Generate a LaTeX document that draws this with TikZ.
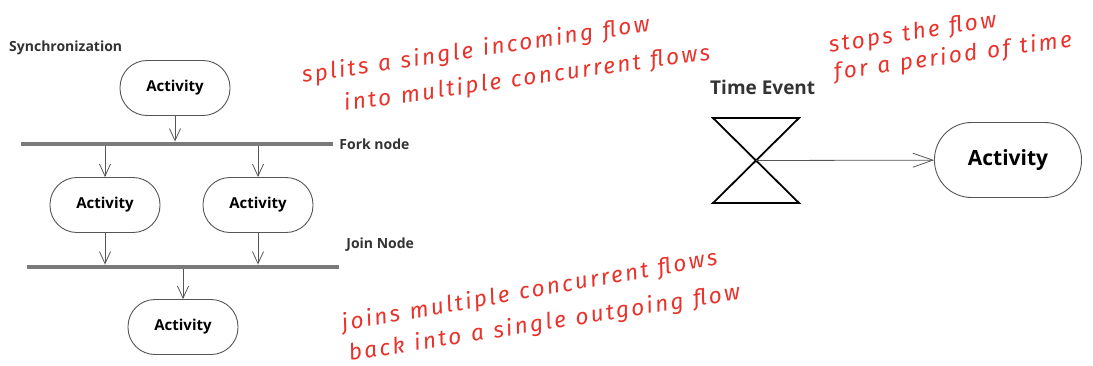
\documentclass[tikz,border=0pt]{standalone}
\usepackage{fontspec}
\setsansfont{Open Sans}
\newfontfamily\handfont{Fira Sans}[LetterSpace=11, WordSpace=1.2]
\usetikzlibrary{arrows.meta,positioning}
\definecolor{umlLine}{HTML}{555555}
\definecolor{umlBar}{HTML}{7A7A7A}
\definecolor{noteRed}{HTML}{E8322B}
\tikzset{
  actv/.style={draw=umlLine, line width=0.9pt, rounded corners=27pt, minimum width=110pt, minimum height=55pt, inner sep=0pt, font=\sffamily\bfseries\fontsize{15}{18}\selectfont},
  bar/.style={fill=umlBar, minimum width=312pt, minimum height=4.5pt, inner sep=0pt},
  arrflow/.style={-{Straight Barb[length=12pt,width=11pt]}, draw=umlLine, line width=0.8pt},
  lbl/.style={inner sep=1pt, text=black!80, font=\sffamily\bfseries\fontsize{14}{16}\selectfont},
  note/.style={anchor=base west, inner sep=0pt, text=noteRed, font=\handfont\itshape\fontsize{22.5}{26}\selectfont},
}
\begin{document}
\begin{tikzpicture}[x=1pt, y=-1pt]
\useasboundingbox (0,0) rectangle (1093,365);
% Fork und Join
\node[lbl, anchor=west] (sync) at (8,48) {Synchronization};
\node[actv] (a0) at (175,88) {Activity};
\node[bar] (fork) at (177,144) {};
\node[lbl, right=5pt of fork] (forklbl) {Fork node};
\node[actv] (a1) at (105,205) {Activity};
\node[actv] (a2) at (258,205) {Activity};
\node[bar] (join) at (183,267) {};
\node[lbl, above right=12pt and 6pt of join.north east] (joinlbl) {Join Node};
\node[actv] (a3) at (183,327) {Activity};

\draw[arrflow] (a0) -- (a0 |- fork.north);
\draw[arrflow] (a1 |- fork.south) -- (a1);
\draw[arrflow] (a2 |- fork.south) -- (a2);
\draw[arrflow] (a1) -- (a1 |- join.north);
\draw[arrflow] (a2) -- (a2 |- join.north);
\draw[arrflow] (a3 |- join.south) -- (a3);

% Zeitereignis
\node[lbl, anchor=west, font=\sffamily\bfseries\fontsize{19}{22}\selectfont] (tevlbl) at (709,87) {Time Event};
\draw[line width=1.8pt] (713,118) -- (799,118) -- (713,203) -- (799,203) -- cycle;
\coordinate (tev) at (756,160.5);
\node[actv, minimum width=147pt, minimum height=75pt, rounded corners=37pt, font=\sffamily\bfseries\fontsize{21}{24}\selectfont] (a4) at (1008,160) {Activity};
\draw[arrflow, -{Straight Barb[length=20pt,width=14pt]}] (tev) -- (a4);

% Notizen
\node[note, rotate=8.5] (n1a) at (303,83) {splits a single incoming flow};
\node[note, rotate=8] (n1b) at (345,111) {into multiple concurrent flows};
\node[note, rotate=10] (n2a) at (343,331) {joins multiple concurrent flows};
\node[note, rotate=9] (n2b) at (350,361) {back into a single outgoing flow};
\node[note, rotate=9] (n3a) at (830,53) {stops the flow};
\node[note, rotate=8] (n3b) at (835,80) {for a period of time};
\end{tikzpicture}
\end{document}
